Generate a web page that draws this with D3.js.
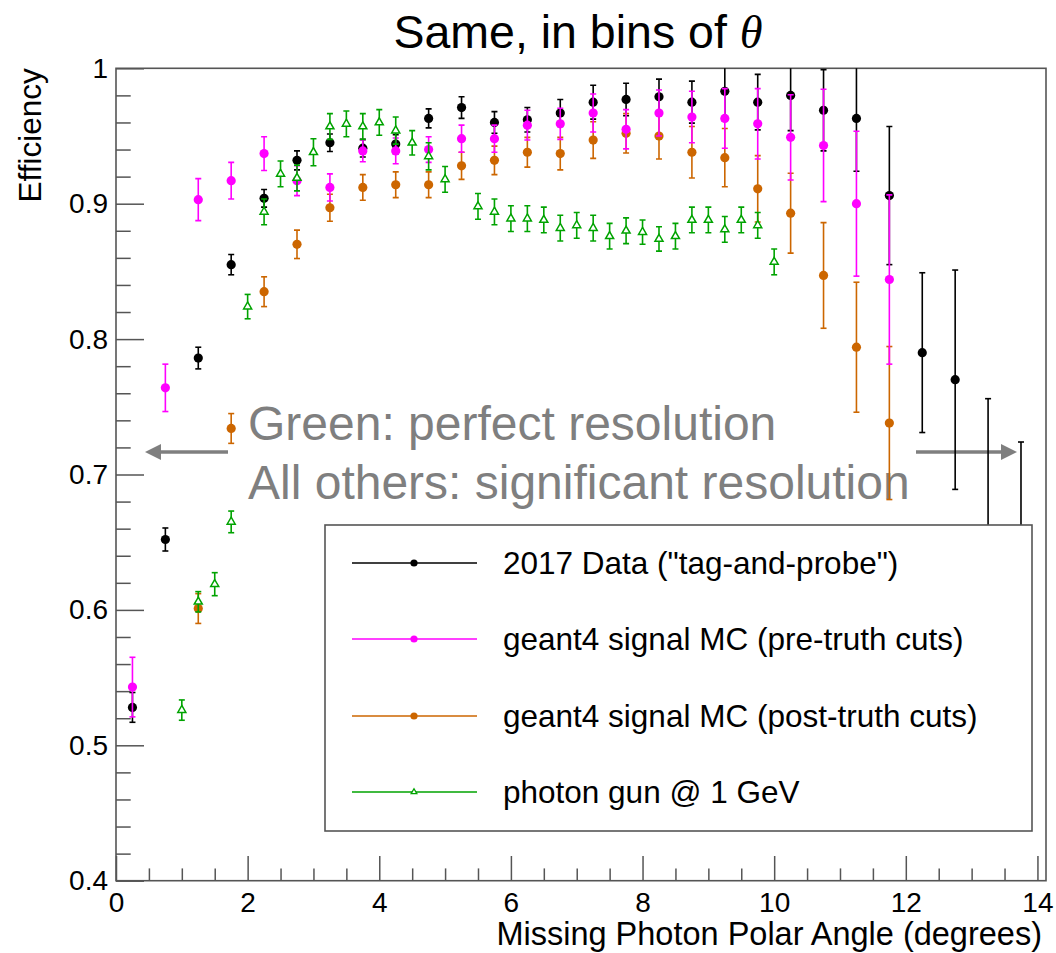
<!DOCTYPE html>
<html><head><meta charset="utf-8">
<script src="https://cdn.jsdelivr.net/npm/d3@7"></script>
<style>body{margin:0;background:#fff}svg{display:block}</style>
</head><body>
<svg id="c" width="1056" height="953"></svg>
<script>
// ---- data ----
const dataX = [0.25,0.75,1.25,1.75,2.25,2.75,3.25,3.75,4.25,4.75,5.25,5.75,6.25,6.75,7.25,7.75,8.25,8.75,9.25,9.75,10.25,10.75,11.25,11.75,12.25,12.75,13.25,13.75];
const dataY = [0.528,0.652,0.786,0.855,0.904,0.932,0.945,0.941,0.944,0.963,0.971,0.960,0.962,0.967,0.975,0.977,0.979,0.975,0.983,0.975,0.980,0.969,0.963,0.906,0.790,0.770,0.650,0.620];
const dataErr = [0.011,0.0085,0.008,0.0075,0.0065,0.007,0.0065,0.0065,0.007,0.007,0.008,0.008,0.009,0.010,0.0125,0.012,0.013,0.0155,0.022,0.0205,0.026,0.030,0.039,0.051,0.059,0.081,0.106,0.104];

const preX = [0.25,0.75,1.25,1.75,2.25,2.75,3.25,3.75,4.25,4.75,5.25,5.75,6.25,6.75,7.25,7.75,8.25,8.75,9.25,9.75,10.25,10.75,11.25,11.75];
const preY = [0.543,0.764,0.903,0.917,0.937,0.917,0.912,0.939,0.939,0.940,0.948,0.948,0.958,0.959,0.967,0.955,0.967,0.964,0.963,0.959,0.949,0.943,0.900,0.844];
const preErr = [0.022,0.0175,0.0155,0.0135,0.0125,0.011,0.010,0.008,0.0095,0.0095,0.010,0.010,0.011,0.0115,0.014,0.0145,0.017,0.019,0.022,0.026,0.0315,0.0415,0.0535,0.0625];

const postX = [1.25,1.75,2.25,2.75,3.25,3.75,4.25,4.75,5.25,5.75,6.25,6.75,7.25,7.75,8.25,8.75,9.25,9.75,10.25,10.75,11.25,11.75];
const postY = [0.601,0.734,0.835,0.870,0.897,0.912,0.914,0.914,0.928,0.932,0.938,0.937,0.947,0.952,0.950,0.938,0.934,0.911,0.893,0.847,0.794,0.738];
const postErr = [0.011,0.011,0.011,0.0105,0.010,0.0095,0.0095,0.0095,0.010,0.0105,0.011,0.012,0.0135,0.0145,0.017,0.019,0.0215,0.0245,0.0295,0.039,0.048,0.0565];

const gunX = [1.0,1.25,1.5,1.75,2.0,2.25,2.5,2.75,3.0,3.25,3.5,3.75,4.0,4.25,4.5,4.75,5.0,5.5,5.75,6.0,6.25,6.5,6.75,7.0,7.25,7.5,7.75,8.0,8.25,8.5,8.75,9.0,9.25,9.5,9.75,10.0];
const gunY = [0.526,0.606,0.619,0.665,0.824,0.894,0.922,0.919,0.938,0.957,0.959,0.957,0.960,0.954,0.945,0.935,0.918,0.898,0.894,0.889,0.889,0.888,0.882,0.884,0.882,0.876,0.880,0.879,0.874,0.876,0.888,0.888,0.881,0.888,0.884,0.857];
const gunErr = [0.0075,0.0075,0.0085,0.008,0.009,0.0095,0.0095,0.0095,0.010,0.0095,0.0095,0.0095,0.0095,0.010,0.009,0.010,0.0095,0.0095,0.0095,0.0095,0.0095,0.0095,0.0095,0.0095,0.0095,0.0095,0.0095,0.009,0.009,0.0095,0.0095,0.0095,0.0095,0.0095,0.0095,0.0095];

const xTicks = [0,2,4,6,8,10,12,14];
const yTicks = [0.4,0.5,0.6,0.7,0.8,0.9,1.0];
const yTickLabels = ["0.4","0.5","0.6","0.7","0.8","0.9","1"];
const legendLabels = ['2017 Data ("tag-and-probe")','geant4 signal MC (pre-truth cuts)','geant4 signal MC (post-truth cuts)','photon gun @ 1 GeV'];
const seriesColors = ["#000000","#ff00ff","#cc6600","#00a300"];

// ---- drawing ----
const svg = d3.select("#c");
const FONT = "'Liberation Sans', Arial, Helvetica, sans-serif";
const L = 116, R = 1046, T = 68.3, B = 880.7;
const x = d3.scaleLinear().domain([0, 14.13]).range([L, R]);
const y = d3.scaleLinear().domain([0.4, 1.0]).range([B, T]);
const axisCol = "#555";

svg.append("rect").attr("width",1056).attr("height",953).attr("fill","#fff");

// title
const title = svg.append("text").attr("x",578).attr("y",48).attr("text-anchor","middle")
  .attr("font-family",FONT).attr("font-size",46.5).attr("fill","#000");
title.append("tspan").text("Same, in bins of ");
title.append("tspan").attr("font-family","'Liberation Serif','DejaVu Serif',serif").attr("font-style","italic").text("\u03b8");

// axes (ticks inward)
const yMinor = d3.range(0.42, 1.0, 0.02).filter(v => Math.abs(Math.round(v*10)-v*10) > 1e-6);
const xMinor = d3.range(0.5, 14.0, 0.5).filter(v => v % 2 !== 0);

const gy = svg.append("g").attr("transform",`translate(${L},0)`);
gy.call(d3.axisLeft(y).tickValues(yMinor).tickSize(-14.7).tickFormat(""));
const gy2 = svg.append("g").attr("transform",`translate(${L},0)`);
gy2.call(d3.axisLeft(y).tickValues(yTicks).tickSize(-28).tickPadding(8)
  .tickFormat((d,i) => yTickLabels[i]));
const gx = svg.append("g").attr("transform",`translate(0,${B})`);
gx.call(d3.axisBottom(x).tickValues(xMinor).tickSize(-12.3).tickFormat(""));
const gx2 = svg.append("g").attr("transform",`translate(0,${B})`);
gx2.call(d3.axisBottom(x).tickValues(xTicks).tickSize(-24.7).tickPadding(11).tickFormat(d3.format("d")));
svg.selectAll(".domain").remove();
svg.selectAll(".tick line").attr("stroke",axisCol).attr("stroke-width",1.5);
svg.selectAll(".tick text").attr("font-family",FONT).attr("font-size",28).attr("fill","#000");

svg.append("rect").attr("x",L).attr("y",T).attr("width",R-L).attr("height",B-T)
  .attr("fill","none").attr("stroke",axisCol).attr("stroke-width",1.6);

// axis titles
svg.append("text").attr("x",1042).attr("y",945).attr("text-anchor","end")
  .attr("font-family",FONT).attr("font-size",32.5).text("Missing Photon Polar Angle (degrees)");
svg.append("text").attr("transform",`translate(41,${T}) rotate(-90)`).attr("text-anchor","end")
  .attr("font-family",FONT).attr("font-size",31.5).text("Efficiency");

// annotations
const grey = "#7f7f7f";
svg.append("text").attr("x",248).attr("y",440).attr("font-family",FONT).attr("font-size",48).attr("fill",grey).text("Green: perfect resolution");
svg.append("text").attr("x",248).attr("y",499).attr("font-family",FONT).attr("font-size",48).attr("fill",grey).text("All others: significant resolution");
function arrow(x0, x1, yy){
  const dir = Math.sign(x1 - x0), hl = 16, hw = 8;
  svg.append("line").attr("x1",x0).attr("x2",x1 - dir*hl).attr("y1",yy).attr("y2",yy)
    .attr("stroke",grey).attr("stroke-width",3.5);
  svg.append("path").attr("d",`M${x1},${yy} L${x1-dir*hl},${yy-hw} L${x1-dir*hl},${yy+hw} Z`).attr("fill",grey);
}
arrow(228, 145, 452);
arrow(916, 1017, 452);

// data
svg.append("clipPath").attr("id","clip").append("rect").attr("x",L).attr("y",T).attr("width",R-L).attr("height",B-T);
const plot = svg.append("g").attr("clip-path","url(#clip)");

function series(xs, ys, es, color, marker){
  const g = plot.append("g");
  xs.forEach((xv, i) => {
    const cx = x(xv), yt = y(ys[i] + es[i]), yb = y(ys[i] - es[i]);
    g.append("line").attr("x1",cx).attr("x2",cx).attr("y1",yt).attr("y2",yb).attr("stroke",color).attr("stroke-width",1.6);
    [yt, yb].forEach(yy => g.append("line").attr("x1",cx-3).attr("x2",cx+3).attr("y1",yy).attr("y2",yy).attr("stroke",color).attr("stroke-width",1.6));
    if (marker === "circle") {
      g.append("circle").attr("cx",cx).attr("cy",y(ys[i])).attr("r",4.6).attr("fill",color);
    } else {
      g.append("path").attr("d",d3.symbol(d3.symbolTriangle, 28)()).attr("transform",`translate(${cx},${y(ys[i])})`)
        .attr("fill","#fff").attr("stroke",color).attr("stroke-width",1.5);
    }
  });
}
series(dataX, dataY, dataErr, seriesColors[0], "circle");
series(postX, postY, postErr, seriesColors[2], "circle");
series(preX, preY, preErr, seriesColors[1], "circle");
series(gunX, gunY, gunErr, seriesColors[3], "triangle");

// legend
const lg = svg.append("g");
lg.append("rect").attr("x",325).attr("y",525).attr("width",707).attr("height",306)
  .attr("fill","#fff").attr("stroke",axisCol).attr("stroke-width",1.6);
const rowY = [563, 639, 716, 792];
legendLabels.forEach((lab, i) => {
  const c = seriesColors[i], yy = rowY[i];
  lg.append("line").attr("x1",352).attr("x2",477).attr("y1",yy).attr("y2",yy).attr("stroke",c).attr("stroke-width",1.6);
  if (i < 3) lg.append("circle").attr("cx",414).attr("cy",yy).attr("r",3.6).attr("fill",c);
  else lg.append("path").attr("d",d3.symbol(d3.symbolTriangle, 14)()).attr("transform",`translate(414,${yy})`)
        .attr("fill","#fff").attr("stroke",c).attr("stroke-width",1.3);
  lg.append("text").attr("x",503).attr("y",yy+10.5).attr("font-family",FONT).attr("font-size",31.5).attr("fill","#000").text(lab);
});
</script>
</body></html>
